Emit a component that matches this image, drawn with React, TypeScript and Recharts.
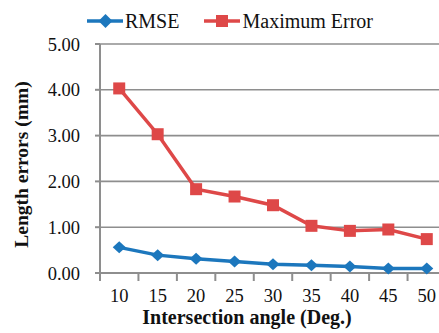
import React from "react";
import { LineChart, Line, XAxis, YAxis, CartesianGrid } from "recharts";

const angles = [10, 15, 20, 25, 30, 35, 40, 45, 50];
const rmse = [0.56, 0.39, 0.31, 0.25, 0.19, 0.17, 0.14, 0.1, 0.1];
const maxError = [4.03, 3.03, 1.83, 1.67, 1.48, 1.03, 0.92, 0.95, 0.74];
const yTicks = [0, 1, 2, 3, 4, 5];
const seriesNames = ["RMSE", "Maximum Error"];
const xTitle = "Intersection angle (Deg.)";
const yTitle = "Length errors (mm)";

const BLUE = "#1c77bd";
const RED = "#de4848";
const GRID = "#8e8e8e";
const FONT = "'Liberation Serif', 'Times New Roman', serif";

const data = angles.map((a, i) => ({ angle: a, rmse: rmse[i], maxError: maxError[i] }));
const halfStep = (angles[1] - angles[0]) / 2;
const boundaryTicks = [...angles.map((a) => a - halfStep), angles[angles.length - 1] + halfStep];
const allXTicks = [...boundaryTicks, ...angles].sort((a, b) => a - b);

const Diamond = (props: any) => {
  const { cx, cy, index } = props;
  if (cx == null || cy == null) return null;
  return (
    <polygon
      key={`d-${index}`}
      points={`${cx},${cy - 6} ${cx + 6.5},${cy} ${cx},${cy + 6} ${cx - 6.5},${cy}`}
      fill={BLUE}
    />
  );
};

const Square = (props: any) => {
  const { cx, cy, index } = props;
  if (cx == null || cy == null) return null;
  return <rect key={`s-${index}`} x={cx - 6} y={cy - 6} width={12} height={12} fill={RED} />;
};

const XTick = (props: any) => {
  const { x, y, payload } = props;
  const v = payload.value;
  if (angles.includes(v)) {
    return (
      <text x={x} y={y + 29} textAnchor="middle" fontSize={18.5} fontFamily={FONT} fill="#111">
        {v}
      </text>
    );
  }
  return <line x1={x} y1={y} x2={x} y2={y + 8} stroke={GRID} strokeWidth={2} />;
};

const YTitle = (props: any) => {
  const { viewBox } = props;
  const cy = viewBox.y + viewBox.height / 2 + 6;
  return (
    <text
      x={28}
      y={cy}
      transform={`rotate(-90 28 ${cy})`}
      textAnchor="middle"
      fontSize={19.5}
      fontWeight="bold"
      fontFamily={FONT}
      fill="#111"
    >
      {yTitle}
    </text>
  );
};

const XTitle = () => (
  <text x={247} y={324} textAnchor="middle" fontSize={20} fontWeight="bold" fontFamily={FONT} fill="#111">
    {xTitle}
  </text>
);

const LegendOverlay = () => (
  <div
    style={{
      position: "absolute",
      left: 87,
      top: 9,
      display: "flex",
      alignItems: "center",
      fontFamily: FONT,
      fontSize: 20,
      color: "#111",
      lineHeight: "24px",
    }}
  >
    <svg width={37} height={24} style={{ display: "block" }}>
      <line x1={0} y1={12} x2={36} y2={12} stroke={BLUE} strokeWidth={3.5} />
      <polygon points="18.5,5 25.5,12 18.5,19 11.5,12" fill={BLUE} />
    </svg>
    <span style={{ marginLeft: 1 }}>{seriesNames[0]}</span>
    <svg width={37} height={24} style={{ display: "block", marginLeft: 25 }}>
      <line x1={0} y1={12} x2={36} y2={12} stroke={RED} strokeWidth={3.5} />
      <rect x={12} y={6} width={12} height={12} fill={RED} />
    </svg>
    <span style={{ marginLeft: 1 }}>{seriesNames[1]}</span>
  </div>
);

export default function App() {
  return (
    <div
      style={{
        position: "absolute",
        left: 0,
        top: 0,
        width: 439,
        height: 333,
        overflow: "hidden",
        background: "#fff",
      }}
    >
      <LineChart width={450} height={333} data={data} margin={{ top: 44, right: 4, left: 0, bottom: 0 }}>
        <CartesianGrid horizontal vertical={false} stroke={GRID} strokeWidth={1.6} />
        <XAxis
          dataKey="angle"
          type="number"
          domain={[boundaryTicks[0], boundaryTicks[boundaryTicks.length - 1]]}
          ticks={allXTicks}
          interval={0}
          tickLine={false}
          tickSize={0}
          tickMargin={0}
          height={60}
          axisLine={{ stroke: GRID, strokeWidth: 2 }}
          tick={<XTick />}
          label={<XTitle />}
        />
        <YAxis
          width={100}
          domain={[0, 5]}
          ticks={yTicks}
          interval={0}
          tickFormatter={(v: number) => v.toFixed(2)}
          tickSize={5}
          tickMargin={15}
          tickLine={{ stroke: GRID, strokeWidth: 2 }}
          axisLine={{ stroke: GRID, strokeWidth: 2 }}
          tick={{ fill: "#111", fontSize: 18.5, fontFamily: FONT }}
          label={<YTitle />}
        />
        <Line
          dataKey="rmse"
          name={seriesNames[0]}
          stroke={BLUE}
          strokeWidth={3.5}
          dot={<Diamond />}
          activeDot={false}
          isAnimationActive={false}
        />
        <Line
          dataKey="maxError"
          name={seriesNames[1]}
          stroke={RED}
          strokeWidth={3.5}
          dot={<Square />}
          activeDot={false}
          isAnimationActive={false}
        />
      </LineChart>
      <LegendOverlay />
    </div>
  );
}
